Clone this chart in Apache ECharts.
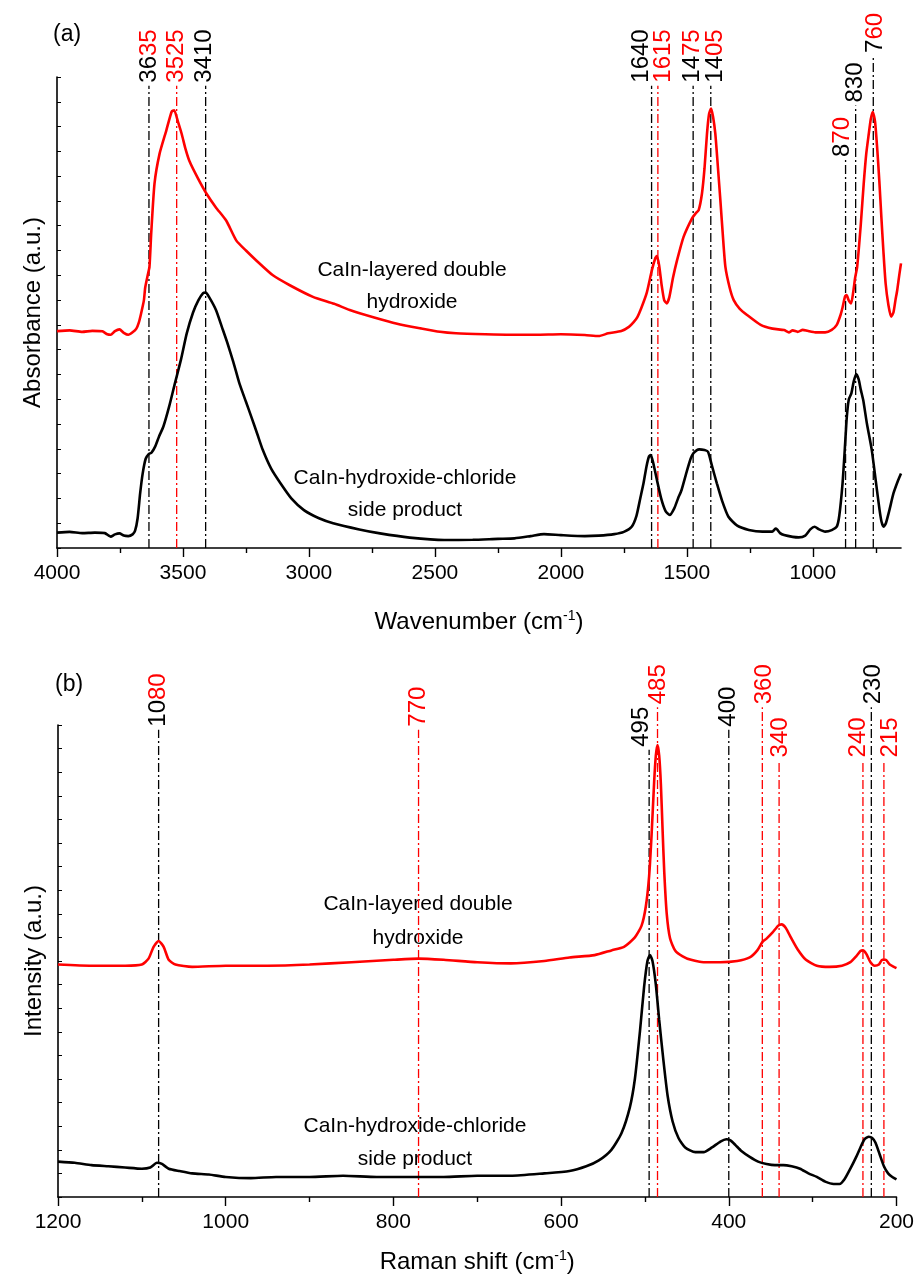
<!DOCTYPE html>
<html lang="en">
<head>
    <meta charset="utf-8">
    <script src="https://cdn.jsdelivr.net/npm/echarts@6/dist/echarts.min.js"></script>
</head>
<body style="margin:0;background:#fff">
<div id="main" style="width:917px;height:1283px;"></div>
<script type="text/javascript">
    // (a) FTIR spectra
    var irLdhX = [4000, 3950, 3900, 3860, 3820, 3800, 3787, 3770, 3752, 3735, 3717, 3700, 3685, 3675, 3666, 3655, 3650, 3640, 3633, 3626, 3613, 3593, 3566, 3545, 3535, 3520, 3505, 3490, 3474, 3440, 3407, 3370, 3328, 3288, 3250, 3209, 3143, 3076, 2984, 2900, 2838, 2741, 2650, 2556, 2480, 2416, 2300, 2200, 2100, 2000, 1905, 1850, 1812, 1760, 1730, 1712, 1697, 1680, 1659, 1639, 1625, 1619, 1610, 1600, 1590, 1580, 1570, 1555, 1539, 1513, 1480, 1465, 1453, 1440, 1430, 1420, 1412, 1404, 1396, 1387, 1377, 1367, 1357, 1347, 1330, 1314, 1290, 1261, 1207, 1160, 1114, 1095, 1080, 1060, 1040, 1021, 990, 951, 925, 905, 890, 882, 872, 866, 858, 848, 840, 832, 824, 810, 798, 788, 778, 770, 762, 753, 744, 736, 728, 720, 711, 700, 689, 680, 672, 665, 657, 650];
    var irLdhY = [8.75, 8.78, 8.72, 8.76, 8.74, 8.62, 8.6, 8.75, 8.82, 8.68, 8.6, 8.7, 8.85, 9.1, 9.47, 10.0, 10.5, 11.0, 11.34, 12.7, 14.7, 15.9, 16.85, 17.6, 17.66, 17.2, 16.7, 16.1, 15.6, 14.9, 14.3, 13.75, 13.2, 12.4, 12.0, 11.6, 11.0, 10.6, 10.13, 9.85, 9.6, 9.3, 9.05, 8.86, 8.72, 8.66, 8.62, 8.6, 8.6, 8.62, 8.59, 8.55, 8.66, 8.75, 8.92, 9.1, 9.3, 9.7, 10.3, 11.2, 11.7, 11.78, 11.4, 10.6, 10.0, 9.87, 10.1, 10.9, 11.6, 12.55, 13.29, 13.5, 13.63, 14.3, 15.3, 16.72, 17.5, 17.73, 17.4, 16.72, 15.4, 14.03, 12.6, 11.34, 10.5, 10.0, 9.65, 9.4, 9.0, 8.85, 8.79, 8.7, 8.78, 8.72, 8.8, 8.76, 8.7, 8.7, 8.8, 9.0, 9.4, 9.7, 10.15, 10.2, 10.0, 9.87, 10.3, 10.9, 11.34, 13.0, 14.7, 15.9, 16.7, 17.3, 17.59, 17.2, 16.05, 14.8, 13.36, 12.0, 10.67, 9.8, 9.33, 9.5, 10.0, 10.4, 11.0, 11.48];
    var irSideX = [4000, 3950, 3900, 3850, 3810, 3795, 3787, 3770, 3752, 3735, 3717, 3700, 3690, 3680, 3670, 3660, 3648, 3636, 3625, 3610, 3595, 3578, 3555, 3532, 3508, 3485, 3460, 3439, 3420, 3410, 3395, 3369, 3345, 3323, 3300, 3276, 3250, 3229, 3205, 3183, 3150, 3113, 3070, 3020, 2960, 2904, 2800, 2718, 2600, 2463, 2350, 2250, 2184, 2120, 2067, 2000, 1905, 1850, 1788, 1750, 1719, 1700, 1685, 1672, 1660, 1650, 1644, 1635, 1620, 1602, 1585, 1568, 1550, 1535, 1521, 1500, 1485, 1474, 1460, 1451, 1430, 1416, 1400, 1381, 1360, 1335, 1300, 1254, 1200, 1161, 1148, 1142, 1130, 1114, 1080, 1056, 1030, 1010, 993, 975, 951, 925, 905, 895, 882, 873, 865, 857, 847, 838, 828, 818, 810, 800, 785, 766, 750, 735, 727, 719, 710, 696, 680, 661, 650];
    var irSideY = [0.62, 0.65, 0.6, 0.62, 0.6, 0.5, 0.46, 0.55, 0.59, 0.5, 0.48, 0.55, 0.7, 1.2, 2.2, 3.0, 3.6, 3.79, 3.85, 4.1, 4.5, 4.89, 5.7, 6.64, 7.6, 8.66, 9.5, 9.99, 10.28, 10.3, 10.1, 9.6, 8.9, 8.25, 7.5, 6.64, 5.9, 5.3, 4.6, 3.95, 3.2, 2.61, 2.0, 1.53, 1.2, 1.0, 0.75, 0.59, 0.42, 0.32, 0.33, 0.37, 0.39, 0.48, 0.56, 0.52, 0.48, 0.5, 0.56, 0.65, 0.86, 1.3, 2.0, 2.61, 3.3, 3.7, 3.75, 3.5, 2.8, 2.0, 1.5, 1.33, 1.6, 2.0, 2.34, 3.1, 3.6, 3.82, 3.95, 3.98, 3.95, 3.88, 3.3, 2.61, 1.9, 1.26, 0.9, 0.73, 0.66, 0.66, 0.78, 0.75, 0.6, 0.52, 0.45, 0.43, 0.5, 0.75, 0.86, 0.75, 0.66, 0.72, 0.86, 1.3, 2.61, 4.0, 5.3, 6.0, 6.24, 6.7, 7.02, 6.8, 6.4, 5.97, 5.0, 3.95, 2.7, 1.53, 1.05, 0.86, 1.0, 1.53, 2.2, 2.74, 3.01];
    var irTicks = [4000, 3500, 3000, 2500, 2000, 1500, 1000];
    var irMinorTicks = [3750, 3250, 2750, 2250, 1750, 1250, 750];
    var irPeaks = [3635, 3525, 3410, 1640, 1615, 1475, 1405, 870, 830, 760];
    var irPeakTop = [18.65, 18.65, 18.65, 18.65, 18.65, 18.65, 18.65, 15.65, 17.85, 19.85];
    var irRedDigits = [2, 4, 0, 0, 4, 2, 2, 2, 0, 2];
    var irLineRed = [0, 1, 0, 0, 1, 0, 0, 0, 0, 0];
    var irLabelShift = [0, 0, -1, -10, 5, -1, 5, -3, 0, 2];

    // (b) Raman spectra
    var ramanLdhX = [1200, 1160, 1120, 1100, 1092, 1086, 1080, 1074, 1068, 1060, 1040, 1000, 950, 900, 850, 800, 770, 740, 700, 660, 620, 590, 560, 540, 525, 512, 504, 499, 495, 492, 489, 487, 485, 483, 481, 479, 477, 474, 470, 464, 455, 445, 430, 410, 390, 375, 366, 360, 355, 348, 341, 337, 332, 326, 318, 308, 295, 280, 265, 255, 248, 243, 240, 236, 231, 226, 221, 217, 213, 208, 203, 200];
    var ramanLdhY = [9.85, 9.8, 9.8, 9.85, 10.1, 10.6, 10.85, 10.6, 10.05, 9.85, 9.75, 9.8, 9.8, 9.85, 9.95, 10.05, 10.1, 10.05, 9.95, 9.9, 10.0, 10.15, 10.25, 10.45, 10.6, 11.0, 11.5, 12.3, 13.6, 15.4, 17.6, 18.7, 19.15, 18.7, 17.5, 15.6, 13.8, 12.0, 10.95, 10.45, 10.2, 10.05, 9.95, 9.95, 10.0, 10.15, 10.45, 10.8, 10.95, 11.2, 11.5, 11.55, 11.4, 11.0, 10.5, 10.05, 9.8, 9.75, 9.8, 9.95, 10.2, 10.42, 10.45, 10.3, 9.95, 9.8, 9.85, 10.05, 10.05, 9.85, 9.75, 9.7];
    var ramanSideX = [1200, 1180, 1160, 1140, 1120, 1100, 1090, 1082, 1076, 1068, 1055, 1040, 1020, 1000, 970, 940, 900, 860, 820, 780, 740, 700, 660, 620, 590, 570, 555, 540, 528, 518, 512, 506, 501, 497, 494, 491, 487, 483, 478, 473, 467, 460, 452, 440, 430, 420, 410, 403, 398, 392, 385, 375, 365, 355, 345, 335, 325, 315, 305, 295, 285, 275, 268, 262, 255, 248, 243, 238, 233, 229, 225, 220, 215, 210, 205, 200];
    var ramanSideY = [1.5, 1.45, 1.35, 1.3, 1.25, 1.2, 1.25, 1.45, 1.4, 1.2, 1.1, 1.0, 0.95, 0.85, 0.8, 0.85, 0.85, 0.9, 0.85, 0.85, 0.85, 0.9, 0.9, 1.0, 1.1, 1.3, 1.55, 2.0, 2.7, 3.8, 5.0, 7.0, 8.9, 10.0, 10.25, 10.0, 9.0, 7.5, 5.8, 4.3, 3.2, 2.5, 2.1, 1.9, 1.9, 2.1, 2.35, 2.45, 2.4, 2.2, 1.95, 1.7, 1.5, 1.4, 1.35, 1.35, 1.3, 1.2, 1.0, 0.85, 0.65, 0.55, 0.55, 0.75, 1.2, 1.7, 2.1, 2.45, 2.55, 2.5, 2.3, 1.8, 1.3, 1.0, 0.85, 0.75];
    var ramanPeaks = [1080, 770, 495, 485, 400, 360, 340, 240, 230, 215];
    var ramanPeakTop = [19.8, 19.8, 18.95, 20.75, 19.8, 20.75, 18.5, 18.5, 20.75, 18.5];
    var ramanRedDigits = [2, 3, 0, 3, 0, 3, 3, 3, 0, 3];
    var ramanLineRed = [0, 1, 0, 1, 0, 1, 1, 1, 0, 1];
    var ramanLabelShift = [0, 0, -8, 1, 0, 2, 1, -5, 2, 6];

    var RED = '#ff0000';
    var BLACK = '#000000';
    var FONT = "'Liberation Sans', Arial, sans-serif";

    var myChart = echarts.init(document.getElementById('main'));

    function zip(xs, ys) {
        return xs.map(function (x, i) { return [x, ys[i]]; });
    }

    function spectrum(idx, xs, ys, color) {
        return {
            type: 'line', xAxisIndex: idx === 0 ? 0 : 2, yAxisIndex: idx,
            data: zip(xs, ys), showSymbol: false, smooth: 0.2, silent: true, z: 3,
            lineStyle: {color: color, width: 2.6}
        };
    }

    // dash-dot peak marker lines with their rotated labels
    function peakMarks(idx, peaks, tops, redDigits, lineRed, shift) {
        return {
            type: 'custom', xAxisIndex: idx === 0 ? 0 : 2, yAxisIndex: idx, silent: true, clip: false, z: 2,
            data: peaks.map(function (p, i) { return [p, tops[i], i]; }),
            renderItem: function (params, api) {
                var i = api.value(2);
                var base = api.coord([api.value(0), 0]);
                var top = api.coord([api.value(0), api.value(1)]);
                var s = String(peaks[i]);
                var n = s.length - redDigits[i];
                var txt = (n > 0 ? '{k|' + s.slice(0, n) + '}' : '') + (redDigits[i] > 0 ? '{r|' + s.slice(n) + '}' : '');
                return {
                    type: 'group',
                    children: [{
                        type: 'line',
                        shape: {x1: base[0], y1: base[1], x2: top[0], y2: top[1]},
                        style: {stroke: lineRed[i] ? RED : BLACK, lineWidth: 1.3, lineDash: [9, 3, 2, 3]}
                    }, {
                        type: 'text',
                        x: top[0] + shift[i], y: top[1] - 3,
                        rotation: Math.PI / 2,
                        style: {
                            text: txt, align: 'left', verticalAlign: 'middle',
                            fontSize: 24, fontFamily: FONT,
                            rich: {
                                k: {fill: BLACK, fontSize: 24, fontFamily: FONT},
                                r: {fill: RED, fontSize: 24, fontFamily: FONT}
                            }
                        }
                    }]
                };
            }
        };
    }

    var nameRich = {
        n: {fontSize: 24, fontFamily: FONT, color: '#000'},
        sup: {fontSize: 14, fontFamily: FONT, color: '#000', verticalAlign: 'top', padding: [0, 0, 12, 0]}
    };

    function plain(v) {
        return String(v);
    }

    var option = {
        animation: false,
        backgroundColor: '#fff',
        grid: [
            {left: 57, top: 77, width: 844, height: 471},
            {left: 58, top: 725, width: 840, height: 472}
        ],
        xAxis: [{
            gridIndex: 0, type: 'value', min: 650, max: 4000, inverse: true, position: 'bottom',
            axisLine: {onZero: false, lineStyle: {color: BLACK, width: 1.6}},
            axisTick: {length: 9, customValues: irTicks, lineStyle: {color: BLACK, width: 1.4}},
            axisLabel: {customValues: irTicks, formatter: plain, margin: 15, fontSize: 21, fontFamily: FONT, color: BLACK},
            splitLine: {show: false},
            name: '{n|Wavenumber (cm}{sup|-1}{n|)}', nameLocation: 'middle', nameGap: 61,
            nameTextStyle: {rich: nameRich}
        }, {
            gridIndex: 0, type: 'value', min: 650, max: 4000, inverse: true, position: 'bottom',
            axisLine: {show: false, onZero: false},
            axisTick: {length: 5, customValues: irMinorTicks, lineStyle: {color: BLACK, width: 1.4}},
            axisLabel: {show: false}, splitLine: {show: false}
        }, {
            gridIndex: 1, type: 'value', min: 200, max: 1200, interval: 200, inverse: true,
            axisLine: {onZero: false, lineStyle: {color: BLACK, width: 1.6}},
            axisTick: {length: 9, lineStyle: {color: BLACK, width: 1.4}},
            minorTick: {show: true, splitNumber: 2, length: 5, lineStyle: {color: BLACK, width: 1.4}},
            axisLabel: {formatter: plain, margin: 15, fontSize: 21, fontFamily: FONT, color: BLACK},
            splitLine: {show: false},
            name: '{n|Raman shift (cm}{sup|-1}{n|)}', nameLocation: 'middle', nameGap: 52,
            nameTextStyle: {rich: nameRich}
        }],
        yAxis: [{
            gridIndex: 0, type: 'value', min: 0, max: 19, interval: 1,
            axisLine: {show: true, onZero: false, lineStyle: {color: BLACK, width: 1.6}},
            axisTick: {show: true, inside: true, length: 4, lineStyle: {color: BLACK}},
            axisLabel: {show: false}, splitLine: {show: false},
            name: 'Absorbance (a.u.)', nameLocation: 'middle', nameGap: 12,
            nameTextStyle: {fontSize: 24, fontFamily: FONT, color: BLACK}
        }, {
            gridIndex: 1, type: 'value', min: 0, max: 20, interval: 1,
            axisLine: {show: true, onZero: false, lineStyle: {color: BLACK, width: 1.6}},
            axisTick: {show: true, inside: true, length: 4, lineStyle: {color: BLACK}},
            axisLabel: {show: false}, splitLine: {show: false},
            name: 'Intensity (a.u.)', nameLocation: 'middle', nameGap: 12,
            nameTextStyle: {fontSize: 24, fontFamily: FONT, color: BLACK}
        }],
        graphic: [
            {type: 'text', x: 53, y: 23, style: {text: '(a)', fill: BLACK, font: '23px ' + FONT}},
            {type: 'text', x: 55, y: 673, style: {text: '(b)', fill: BLACK, font: '23px ' + FONT}},
            {type: 'text', x: 412, y: 254, style: {text: 'CaIn-layered double\nhydroxide', fill: BLACK, font: '21px ' + FONT, textAlign: 'center', lineHeight: 32}},
            {type: 'text', x: 405, y: 462, style: {text: 'CaIn-hydroxide-chloride\nside product', fill: BLACK, font: '21px ' + FONT, textAlign: 'center', lineHeight: 32}},
            {type: 'text', x: 418, y: 887, style: {text: 'CaIn-layered double\nhydroxide', fill: BLACK, font: '21px ' + FONT, textAlign: 'center', lineHeight: 34}},
            {type: 'text', x: 415, y: 1110, style: {text: 'CaIn-hydroxide-chloride\nside product', fill: BLACK, font: '21px ' + FONT, textAlign: 'center', lineHeight: 33}}
        ],
        series: [
            peakMarks(0, irPeaks, irPeakTop, irRedDigits, irLineRed, irLabelShift),
            spectrum(0, irLdhX, irLdhY, RED),
            spectrum(0, irSideX, irSideY, BLACK),
            peakMarks(1, ramanPeaks, ramanPeakTop, ramanRedDigits, ramanLineRed, ramanLabelShift),
            spectrum(1, ramanLdhX, ramanLdhY, RED),
            spectrum(1, ramanSideX, ramanSideY, BLACK)
        ]
    };

    myChart.setOption(option);
</script>
</body>
</html>
